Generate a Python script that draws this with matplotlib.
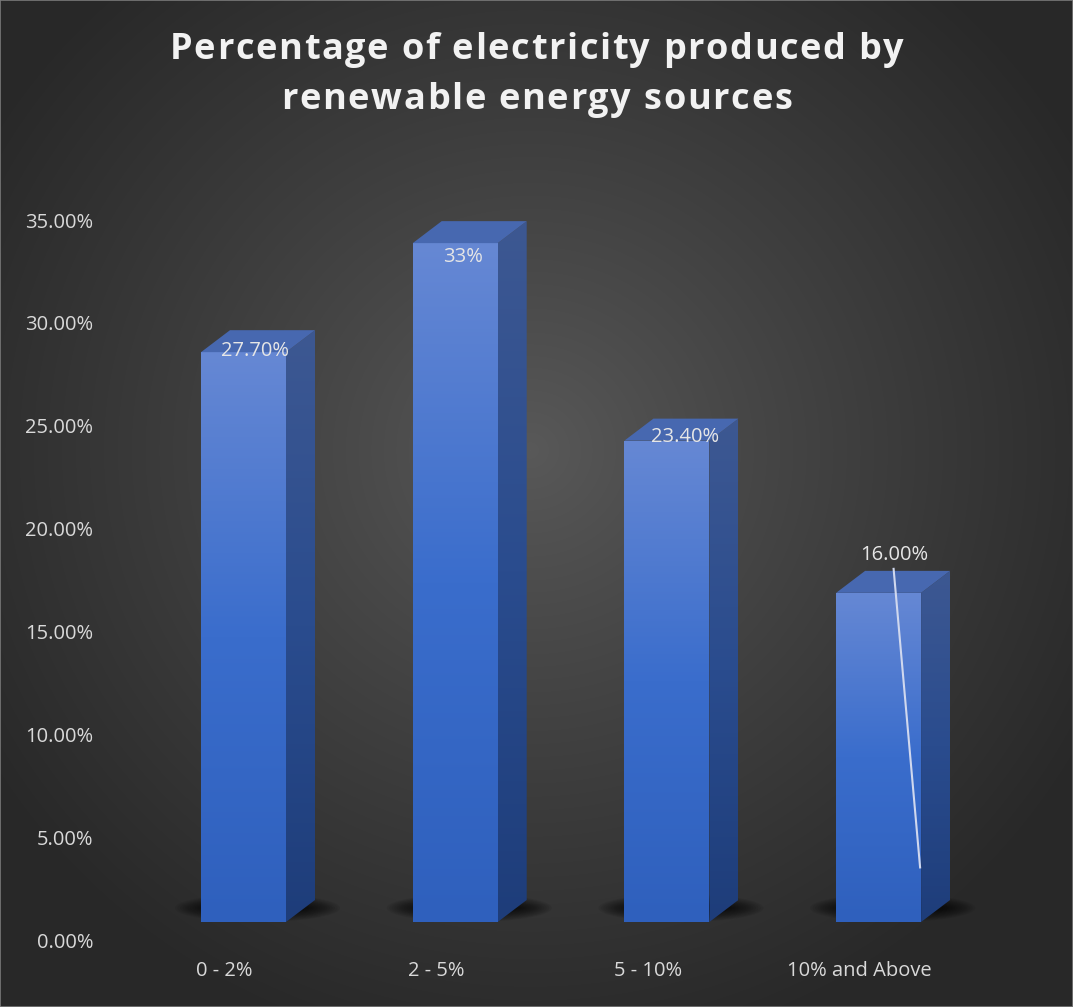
import numpy as np
import matplotlib
matplotlib.use("Agg")
import matplotlib.pyplot as plt
from matplotlib.patches import Polygon, Ellipse
from matplotlib.transforms import IdentityTransform, ScaledTranslation
from matplotlib.colors import LinearSegmentedColormap
from matplotlib.font_manager import FontProperties, findfont
from matplotlib.ft2font import FT2Font

categories = ["0 - 2%", "2 - 5%", "5 - 10%", "10% and Above"]
values = [27.7, 33.0, 23.4, 16.0]
value_labels = ["27.70%", "33%", "23.40%", "16.00%"]
yticks = [0, 5, 10, 15, 20, 25, 30, 35]
ytick_labels = ["0.00%", "5.00%", "10.00%", "15.00%", "20.00%", "25.00%", "30.00%", "35.00%"]
title_lines = ["Percentage of electricity produced by", "renewable energy sources"]

W, H = 1073, 1007
DPI = 100
fig = plt.figure(figsize=(W / DPI, H / DPI), dpi=DPI)
ident = IdentityTransform()

# background radial gradient
bg = fig.add_axes([0, 0, 1, 1], zorder=-10)
yy, xx = np.mgrid[0:H, 0:W]
cx, cy = 530, 450
r = np.sqrt(((xx - cx) / 640.0) ** 2 + ((yy - cy) / 620.0) ** 2)
r = np.clip(r, 0, 1)
c_in, c_out = 0x59 / 255, 0x28 / 255
img = c_in + (c_out - c_in) * r ** 0.9
bg.imshow(np.dstack([img, img, img]), extent=[0, W, H, 0], aspect="auto", interpolation="bilinear")
bg.set_xlim(0, W)
bg.set_ylim(H, 0)
bg.axis("off")

# main axes: y=0 at pixel 940, y=35 at pixel 220
bottom = (H - 940) / H
top = (H - 220) / H
x_left = 137.65
x_right = 984.45
ax = fig.add_axes([x_left / W, bottom, (x_right - x_left) / W, top - bottom])
ax.set_xlim(-0.5, 3.5)
ax.set_ylim(0, 35)
ax.set_autoscale_on(False)
ax.patch.set_alpha(0)
for s in ax.spines.values():
    s.set_visible(False)
TICK_FS = 14.5
ax.set_yticks(yticks)
ax.set_yticklabels(ytick_labels)
ax.set_xticks(range(len(categories)))
ax.set_xticklabels(categories)
ax.tick_params(axis="both", length=0, colors="#d9d9d9", labelsize=TICK_FS)
ax.tick_params(axis="y", pad=32)
ax.tick_params(axis="x", pad=15)
for t in ax.get_xticklabels() + ax.get_yticklabels():
    t.set_fontfamily("Open Sans")
    t.set_color("#d9d9d9")
for t in ax.get_xticklabels():
    t.set_transform(t.get_transform() + ScaledTranslation(-0.19, 0, fig.dpi_scale_trans))

bar_w = 0.4015
lift = 18      # px, front face offset above the axis
ddx, ddy = 29, 22  # depth offset px

front_cmap = LinearSegmentedColormap.from_list("f", ["#2f60bd", "#3a6dcc", "#6688d4"])
side_cmap = LinearSegmentedColormap.from_list("s", ["#1e3d7a", "#2a4c8e", "#3d5892"])

fig.canvas.draw()
tr = ax.transData

label_dy = [1, -14, 4, 38]
label_dx = [12, 8, 18, 16]
grad = np.linspace(0, 1, 256).reshape(-1, 1)

for i, v in enumerate(values):
    (x0, y0) = tr.transform((i - bar_w / 2, 0))
    (x1, y1) = tr.transform((i + bar_w / 2, v))
    y0 += lift
    y1 += lift
    # shadow
    for k in range(14):
        e = Ellipse(((x0 + x1) / 2 + 14, y0 + 14), (x1 - x0) + 80 - k * 5, 28 - k * 1.6,
                    transform=ident, facecolor="black", alpha=0.065, edgecolor="none", zorder=1)
        ax.add_artist(e)
    # front face gradient
    im = ax.imshow(grad, cmap=front_cmap, origin="lower", aspect="auto", zorder=3,
                   extent=[x0, x1, y0, y1], transform=ident)
    im.set_clip_path(Polygon([(x0, y0), (x1, y0), (x1, y1), (x0, y1)], closed=True, transform=ident))
    # side face gradient
    ims = ax.imshow(grad, cmap=side_cmap, origin="lower", aspect="auto", zorder=3,
                    extent=[x1, x1 + ddx, y0, y1 + ddy], transform=ident)
    ims.set_clip_path(Polygon([(x1, y0), (x1 + ddx, y0 + ddy), (x1 + ddx, y1 + ddy), (x1, y1)],
                              closed=True, transform=ident))
    # top face
    topf = Polygon([(x0, y1), (x1, y1), (x1 + ddx, y1 + ddy), (x0 + ddx, y1 + ddy)], closed=True,
                   transform=ident, facecolor="#4768b0", edgecolor="none", zorder=4)
    ax.add_artist(topf)

    lx, ly = (x0 + x1) / 2 + label_dx[i], y1 + label_dy[i]
    ax.annotate(value_labels[i], xy=(lx, ly), xycoords=ident, ha="center", va="center",
                color="#e6e6e6", fontsize=TICK_FS, fontfamily="Open Sans", zorder=6)
    if i == 3:
        ax.add_artist(plt.Line2D([lx - 1, x1 - 1], [ly - 14, (y0 + y1) / 2 - 110],
                                 transform=ident, color="#d0d8ee", lw=1.5, zorder=6))

# title with letter spacing
TFS = 26
tprop = FontProperties(family="Open Sans", weight="bold", size=TFS)
font = FT2Font(findfont(tprop))
font.set_size(TFS, DPI)
track = 1.7
line_y = [H - 50, H - 100]
for line, ly in zip(title_lines, line_y):
    adv = [font.load_char(ord(c)).linearHoriAdvance / 65536.0 + track for c in line]
    total = sum(adv) - track
    x = W / 2 - total / 2
    for c, a in zip(line, adv):
        if c != " ":
            fig.text(x, ly, c, transform=ident, ha="left", va="center",
                     color="#f2f2f2", fontproperties=tprop)
        x += a

# thin border
border = fig.add_axes([0, 0, 1, 1], zorder=20)
border.patch.set_alpha(0)
border.set_xticks([]); border.set_yticks([])
for s in border.spines.values():
    s.set_color("#7a7a7a"); s.set_linewidth(1.2)

fig.savefig("out.png", dpi=DPI)
